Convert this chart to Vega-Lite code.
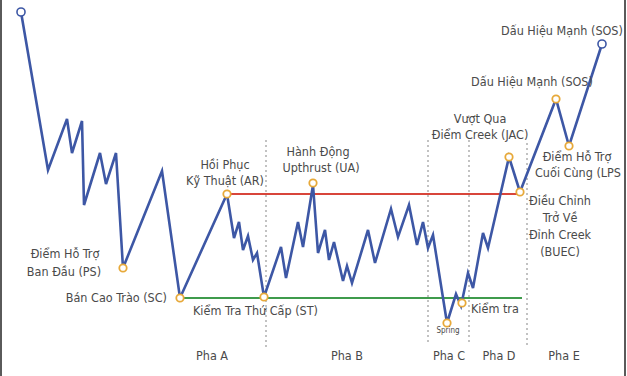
{
  "$schema": "https://vega.github.io/schema/vega-lite/v6.json",
  "width": 627,
  "height": 376,
  "autosize": {"type": "none"},
  "padding": 0,
  "background": "white",
  "config": {"view": {"stroke": null}},
  "datasets": {
    "price": [
      {"i":0,"x":21,"y":12},{"i":1,"x":48,"y":170},{"i":2,"x":67,"y":119},{"i":3,"x":72,"y":153},{"i":4,"x":82,"y":121},{"i":5,"x":84,"y":205},{"i":6,"x":100,"y":153},{"i":7,"x":106,"y":184},{"i":8,"x":116,"y":153},{"i":9,"x":123,"y":268},{"i":10,"x":162,"y":171},{"i":11,"x":180,"y":298},{"i":12,"x":227,"y":194},{"i":13,"x":234,"y":238},{"i":14,"x":239,"y":222},{"i":15,"x":243,"y":250},{"i":16,"x":248,"y":236},{"i":17,"x":253,"y":260},{"i":18,"x":257,"y":253},{"i":19,"x":264,"y":297},{"i":20,"x":281,"y":247},{"i":21,"x":286,"y":278},{"i":22,"x":298,"y":222},{"i":23,"x":303,"y":247},{"i":24,"x":313,"y":185},{"i":25,"x":318,"y":253},{"i":26,"x":325,"y":230},{"i":27,"x":329,"y":260},{"i":28,"x":334,"y":242},{"i":29,"x":343,"y":281},{"i":30,"x":347,"y":266},{"i":31,"x":352,"y":283},{"i":32,"x":368,"y":230},{"i":33,"x":375,"y":263},{"i":34,"x":391,"y":209},{"i":35,"x":398,"y":237},{"i":36,"x":409,"y":205},{"i":37,"x":417,"y":245},{"i":38,"x":423,"y":222},{"i":39,"x":428,"y":248},{"i":40,"x":433,"y":235},{"i":41,"x":447,"y":323},{"i":42,"x":456,"y":294},{"i":43,"x":461,"y":306},{"i":44,"x":468,"y":273},{"i":45,"x":473,"y":288},{"i":46,"x":483,"y":233},{"i":47,"x":488,"y":248},{"i":48,"x":509,"y":157},{"i":49,"x":520,"y":192},{"i":50,"x":556,"y":99},{"i":51,"x":569,"y":146},{"i":52,"x":602,"y":44}
    ],
    "events": [
      {"name":"PS","x":123,"y":268},{"name":"SC","x":180,"y":298},{"name":"AR","x":227,"y":194},{"name":"ST","x":264,"y":297},{"name":"UA","x":313,"y":183},{"name":"Spring","x":447,"y":323},{"name":"Test","x":462,"y":303},{"name":"JAC","x":509,"y":157},{"name":"BUEC","x":520,"y":192},{"name":"SOS1","x":556,"y":99},{"name":"LPS","x":569,"y":146}
    ],
    "ends": [
      {"name":"start","x":21,"y":12},{"name":"SOS2","x":602,"y":44}
    ],
    "phaseLines": [
      {"x":266,"y1":140,"y2":348},{"x":428,"y1":140,"y2":345},{"x":469,"y1":140,"y2":345},{"x":527,"y1":143,"y2":345}
    ],
    "resistance": [{"x1":227,"x2":520,"y":194}],
    "support": [{"x1":180,"x2":522,"y":298}],
    "frame": [{"x":1},{"x":625}],
    "labelsCenter": [
      {"t":"Điểm Hỗ Trợ","x":65,"y":254},
      {"t":"Ban Đầu (PS)","x":64,"y":272},
      {"t":"Hồi Phục","x":225,"y":165},
      {"t":"Kỹ Thuật (AR)","x":225,"y":181},
      {"t":"Hành Động","x":318,"y":152},
      {"t":"Upthrust (UA)","x":321,"y":168},
      {"t":"Vượt Qua","x":480,"y":119},
      {"t":"Điểm Creek (JAC)","x":480,"y":135},
      {"t":"Điều Chỉnh","x":560,"y":201},
      {"t":"Trở Về","x":560,"y":218},
      {"t":"Đỉnh Creek","x":560,"y":235},
      {"t":"(BUEC)","x":560,"y":252},
      {"t":"Điểm Hỗ Trợ","x":577,"y":157},
      {"t":"Cuối Cùng (LPS","x":578,"y":173},
      {"t":"Dấu Hiệu Mạnh (SOS)","x":562,"y":31},
      {"t":"Dấu Hiệu Mạnh (SOS)","x":532,"y":82}
    ],
    "labelsLeft": [
      {"t":"Kiểm Tra Thứ Cấp (ST)","x":193,"y":311},
      {"t":"Kiểm tra","x":471,"y":309}
    ],
    "labelsRight": [
      {"t":"Bán Cao Trào (SC)","x":167,"y":298}
    ],
    "small": [{"t":"Spring","x":448,"y":331}],
    "phases": [
      {"t":"Pha A","x":212,"y":356},{"t":"Pha B","x":347,"y":356},{"t":"Pha C","x":449,"y":356},{"t":"Pha D","x":499,"y":356},{"t":"Pha E","x":564,"y":356}
    ]
  },
  "layer": [
    {
      "data": {"name": "phaseLines"},
      "mark": {"type": "rule", "color": "#9a9a9a", "strokeDash": [2, 3], "strokeWidth": 1.2},
      "encoding": {
        "x": {"field": "x", "type": "quantitative", "scale": {"domain": [0, 627], "nice": false, "zero": false}, "axis": null},
        "y": {"field": "y1", "type": "quantitative", "scale": {"domain": [0, 376], "reverse": true, "nice": false, "zero": false}, "axis": null},
        "y2": {"field": "y2"}
      }
    },
    {
      "data": {"name": "frame"},
      "mark": {"type": "rule", "color": "#5a5a5a", "strokeWidth": 2},
      "encoding": {
        "x": {"field": "x", "type": "quantitative"},
        "y": {"datum": 0, "type": "quantitative"},
        "y2": {"datum": 376}
      }
    },
    {
      "data": {"name": "resistance"},
      "mark": {"type": "rule", "color": "#d8453b", "strokeWidth": 1.8},
      "encoding": {
        "x": {"field": "x1", "type": "quantitative"},
        "x2": {"field": "x2"},
        "y": {"field": "y", "type": "quantitative"}
      }
    },
    {
      "data": {"name": "support"},
      "mark": {"type": "rule", "color": "#3f9b4c", "strokeWidth": 1.8},
      "encoding": {
        "x": {"field": "x1", "type": "quantitative"},
        "x2": {"field": "x2"},
        "y": {"field": "y", "type": "quantitative"}
      }
    },
    {
      "data": {"name": "price"},
      "mark": {"type": "line", "color": "#3d57a5", "strokeWidth": 2.6, "strokeJoin": "miter"},
      "encoding": {
        "x": {"field": "x", "type": "quantitative"},
        "y": {"field": "y", "type": "quantitative"},
        "order": {"field": "i", "type": "quantitative"}
      }
    },
    {
      "data": {"name": "events"},
      "mark": {"type": "point", "shape": "circle", "filled": false, "fill": "white", "fillOpacity": 1, "stroke": "#e7a93a", "strokeWidth": 1.8, "size": 55, "opacity": 1},
      "encoding": {
        "x": {"field": "x", "type": "quantitative"},
        "y": {"field": "y", "type": "quantitative"}
      }
    },
    {
      "data": {"name": "ends"},
      "mark": {"type": "point", "shape": "circle", "filled": false, "fill": "white", "fillOpacity": 1, "stroke": "#3d57a5", "strokeWidth": 1.6, "size": 65, "opacity": 1},
      "encoding": {
        "x": {"field": "x", "type": "quantitative"},
        "y": {"field": "y", "type": "quantitative"}
      }
    },
    {
      "data": {"name": "labelsCenter"},
      "mark": {"type": "text", "align": "center", "baseline": "middle", "font": "DejaVu Sans Condensed, DejaVu Sans, sans-serif", "fontSize": 12.5, "color": "#4a4a4a"},
      "encoding": {
        "x": {"field": "x", "type": "quantitative"},
        "y": {"field": "y", "type": "quantitative"},
        "text": {"field": "t"}
      }
    },
    {
      "data": {"name": "labelsLeft"},
      "mark": {"type": "text", "align": "left", "baseline": "middle", "font": "DejaVu Sans Condensed, DejaVu Sans, sans-serif", "fontSize": 12.5, "color": "#4a4a4a"},
      "encoding": {
        "x": {"field": "x", "type": "quantitative"},
        "y": {"field": "y", "type": "quantitative"},
        "text": {"field": "t"}
      }
    },
    {
      "data": {"name": "labelsRight"},
      "mark": {"type": "text", "align": "right", "baseline": "middle", "font": "DejaVu Sans Condensed, DejaVu Sans, sans-serif", "fontSize": 12.5, "color": "#4a4a4a"},
      "encoding": {
        "x": {"field": "x", "type": "quantitative"},
        "y": {"field": "y", "type": "quantitative"},
        "text": {"field": "t"}
      }
    },
    {
      "data": {"name": "small"},
      "mark": {"type": "text", "align": "center", "baseline": "middle", "font": "DejaVu Sans Condensed, DejaVu Sans, sans-serif", "fontSize": 8, "color": "#4a4a4a"},
      "encoding": {
        "x": {"field": "x", "type": "quantitative"},
        "y": {"field": "y", "type": "quantitative"},
        "text": {"field": "t"}
      }
    },
    {
      "data": {"name": "phases"},
      "mark": {"type": "text", "align": "center", "baseline": "middle", "font": "DejaVu Sans Condensed, DejaVu Sans, sans-serif", "fontSize": 12.5, "color": "#4a4a4a"},
      "encoding": {
        "x": {"field": "x", "type": "quantitative"},
        "y": {"field": "y", "type": "quantitative"},
        "text": {"field": "t"}
      }
    }
  ]
}
